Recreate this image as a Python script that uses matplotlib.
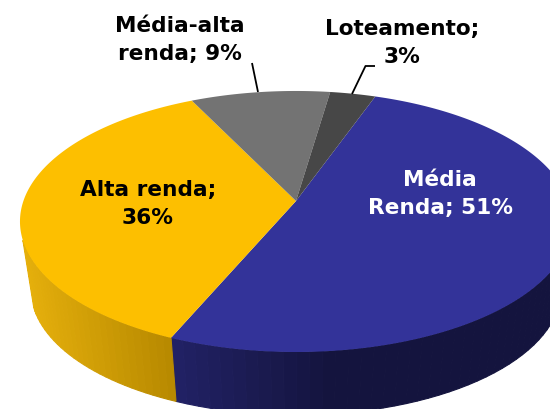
import numpy as np
import matplotlib
matplotlib.use("Agg")
import matplotlib.pyplot as plt
from matplotlib.colors import to_rgb

labels = ["Média\nRenda; 51%", "Alta renda;\n36%", "Média-alta\nrenda; 9%", "Loteamento;\n3%"]
values = [51, 36.4, 9.5, 3.1]
top_colors = ["#333399", "#FDBF00", "#737373", "#474747"]
side_light = ["#222266", "#E6B00C", "#606060", "#3A3A3A"]
side_dark = ["#14143E", "#B88A00", "#505050", "#303030"]
text_colors = ["white", "black", "black", "black"]
label_xy = [(440, 194), (148, 204), (180, 40), (402, 43)]

START = 70.5
K = 0.157
CX, CY, A, B = 296, 201, 272.6, 127.3
SHRINK, DROP = 0.96, 69


def project(deg, r=1.0, lower=False):
    t = np.radians(deg)
    x, y = r * np.cos(t), r * np.sin(t)
    d = 1 + K * y
    s = SHRINK if lower else 1.0
    return CX + s * A * x / d, CY + (DROP if lower else 0) - s * B * y / d


fig = plt.figure(figsize=(5.5, 4.09), dpi=100)
ax = fig.add_axes([0, 0, 1, 1])
ax.set_xlim(0, 550)
ax.set_ylim(409, 0)
ax.axis("off")

angles = START - np.cumsum([0] + values) * 360.0 / sum(values)

# side wall, drawn as a fan of thin shaded strips
for i in range(len(values)):
    a0, a1 = angles[i], angles[i + 1]
    steps = np.linspace(a0, a1, 80)
    c1, c2 = np.array(to_rgb(side_light[i])), np.array(to_rgb(side_dark[i]))
    for p, q in zip(steps[:-1], steps[1:]):
        if np.sin(np.radians((p + q) / 2)) > -0.3:
            continue
        xt = np.array([project(p)[0], project(q)[0], project(q, lower=True)[0], project(p, lower=True)[0]])
        yt = np.array([project(p)[1], project(q)[1], project(q, lower=True)[1], project(p, lower=True)[1]])
        if i == 1:
            f = np.clip((xt.mean() - 25) / 145, 0, 1)
        else:
            f = np.clip((xt.mean() - 170) / 160, 0, 1)
        col = c1 * (1 - f) + c2 * f
        ax.fill(xt, yt, facecolor=col, edgecolor=col, lw=0.8, zorder=1)

# top face
for i in range(len(values)):
    arc = np.linspace(angles[i], angles[i + 1], 200)
    px, py = project(arc)
    ax.fill(np.r_[CX, px], np.r_[CY, py], facecolor=top_colors[i], edgecolor="none", lw=0, zorder=2)

# leader lines from the label to the slice
for i, (lx, ly) in [(2, ([252, 258], [63, 92])), (3, ([375, 365.5, 352], [66, 66, 94]))]:
    ax.plot(lx, ly, color="black", lw=1.3, zorder=3, solid_capstyle="butt")

for lab, (tx, ty), col in zip(labels, label_xy, text_colors):
    ax.text(tx, ty, lab, ha="center", va="center", color=col, fontsize=15.6,
            fontweight="bold", family="DejaVu Sans", linespacing=1.5, zorder=4)

fig.savefig("out.png", dpi=100, facecolor="white")
